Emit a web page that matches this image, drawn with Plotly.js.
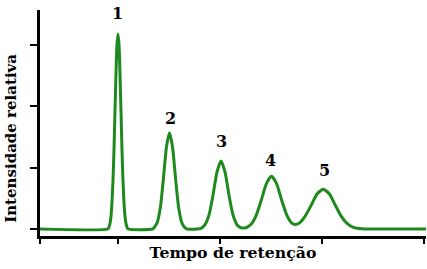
<!DOCTYPE html>
<html>
<head>
<meta charset="utf-8">
<script src="https://cdn.plot.ly/plotly-3.0.1.min.js"></script>
<style>
html,body{margin:0;padding:0;background:#fff;}
#chart{width:427px;height:269px;}
</style>
</head>
<body>
<div id="chart"></div>
<script>
// Retention time (arbitrary units) and relative intensity
const retentionTime = [
  0.47, 1.80,
  1.823, 1.843, 1.863, 1.882, 1.902, 1.922, 1.941, 1.961, 1.980, 2.000,
  2.020, 2.039, 2.059, 2.078, 2.098, 2.118, 2.137, 2.157, 2.177, 2.200,
  2.680, 2.716, 2.775, 2.834, 2.892, 2.951, 3.010, 3.069, 3.128, 3.186, 3.245, 3.304, 3.360,
  3.550, 3.628, 3.706, 3.785, 3.863, 3.942, 4.020, 4.098, 4.177, 4.255, 4.334, 4.412,
  4.520, 4.618, 4.716, 4.814, 4.912, 5.010, 5.108, 5.206, 5.304, 5.402, 5.480,
  5.553, 5.671, 5.789, 5.907, 6.025, 6.143, 6.261, 6.379, 6.497, 6.615, 6.733, 6.850,
  8.040
];
const intensity = [
  0, 0,
  0.03, 0.09, 0.21, 0.43, 0.79, 1.30, 1.92, 2.54, 3.01, 3.18,
  3.01, 2.54, 1.92, 1.30, 0.79, 0.43, 0.21, 0.09, 0.03, 0,
  0, 0.03, 0.12, 0.37, 0.83, 1.34, 1.57, 1.34, 0.83, 0.37, 0.12, 0.03, 0,
  0, 0.01, 0.07, 0.23, 0.55, 0.93, 1.11, 0.93, 0.55, 0.23, 0.07, 0.02,
  0.025, 0.085, 0.235, 0.48, 0.745, 0.86, 0.745, 0.48, 0.24, 0.10, 0.073,
  0.096, 0.21, 0.39, 0.574, 0.65, 0.574, 0.39, 0.207, 0.086, 0.027, 0.007, 0,
  0
];
// Peak labels
const peakNames = ['1', '2', '3', '4', '5'];
const peakTimes = [2.0, 3.03, 4.03, 5.0, 6.04];
const peakLabelLevel = [3.51, 1.81, 1.435, 1.125, 0.96];

const xTicks = [0.4706, 2, 4, 6, 8];
const yTicks = [0, 1, 2, 3];

const xTitle = 'Tempo de retenção';
const yTitle = 'Intensidade relativa';

const serif = '"DejaVu Serif", "Liberation Serif", serif';

const trace = {
  x: retentionTime,
  y: intensity,
  type: 'scatter',
  mode: 'lines',
  line: {color: '#1e8a1e', width: 3, shape: 'spline', smoothing: 0.6},
  hoverinfo: 'skip'
};

const annotations = peakNames.map((n, i) => ({
  x: peakTimes[i], y: peakLabelLevel[i], xref: 'x', yref: 'y',
  text: '<b>' + n + '</b>', showarrow: false,
  xanchor: 'center', yanchor: 'middle',
  font: {family: serif, size: 16, color: '#000'}
}));

annotations.push({
  x: -0.076, y: 0.433, xref: 'paper', yref: 'paper',
  text: '<b>' + yTitle + '</b>', showarrow: false, textangle: -90,
  xanchor: 'center', yanchor: 'middle',
  font: {family: serif, size: 15, color: '#000'}
});

const layout = {
  width: 427, height: 269,
  margin: {l: 40, r: 1, t: 10, b: 33},
  paper_bgcolor: '#fff', plot_bgcolor: '#fff',
  showlegend: false,
  xaxis: {
    range: [0.4706, 8.04],
    tickmode: 'array', tickvals: xTicks, showticklabels: false,
    ticks: 'outside', ticklen: 5, tickwidth: 2, tickcolor: '#000',
    showline: true, linecolor: '#000', linewidth: 3,
    showgrid: false, zeroline: false,
    title: {text: '<b>' + xTitle + '</b>', font: {family: serif, size: 15.7, color: '#000'}, standoff: 5}
  },
  yaxis: {
    range: [-0.114, 3.571],
    tickmode: 'array', tickvals: yTicks, showticklabels: false,
    ticks: 'outside', ticklen: 7, tickwidth: 2, tickcolor: '#000',
    showline: true, linecolor: '#000', linewidth: 3,
    showgrid: false, zeroline: false
  },
  annotations: annotations
};

Plotly.newPlot('chart', [trace], layout, {staticPlot: true, displayModeBar: false});
</script>
</body>
</html>
